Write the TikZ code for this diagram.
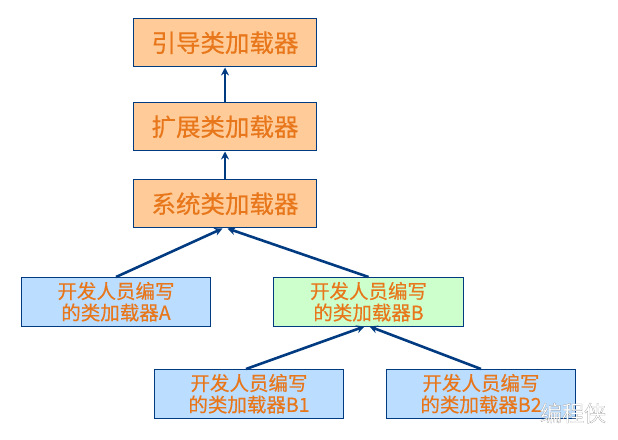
\documentclass[tikz,border=0pt]{standalone}
\usepackage{fontspec}
\setmainfont[FakeBold=0.35]{Noto Sans CJK SC}
\newfontfamily\wmfont[FakeBold=0.6]{Noto Sans CJK SC}
\usetikzlibrary{arrows.meta}
\definecolor{navy}{HTML}{003A80}
\definecolor{txt}{HTML}{E8761A}
\definecolor{org}{HTML}{FFCC99}
\definecolor{blu}{HTML}{BBDDFF}
\definecolor{grn}{HTML}{CCFFCC}
\tikzset{
 x=1bp,y=-1bp,
 bigbox/.style={draw=navy,line width=1bp,fill=org,minimum width=183bp,minimum height=48.5bp,inner sep=0pt,text=txt,font=\fontsize{24.5bp}{26bp}\selectfont},
 smallbox/.style={draw=navy,line width=1bp,fill=blu,minimum width=189bp,minimum height=48.5bp,inner sep=0pt,text=txt,align=center,font=\fontsize{19.5bp}{21.5bp}\selectfont},
 conn/.style={draw=navy,line width=2.6bp,-{Stealth[length=8bp,width=8bp]}},
}
\begin{document}
\begin{tikzpicture}
\useasboundingbox (0,0) rectangle (618,440);
\node[bigbox] (boot) at (225,42.75) {\raisebox{-1bp}{引导类加载器}};
\node[bigbox] (ext) at (225,126.75) {\raisebox{-1bp}{扩展类加载器}};
\node[bigbox] (sys) at (225,203.75) {\raisebox{-1bp}{系统类加载器}};
\node[smallbox] (a) at (116,301.75) {开发人员编写\\的类加载器A};
\node[smallbox,fill=grn,minimum width=190bp] (b) at (368.5,301.75) {开发人员编写\\的类加载器B};
\node[smallbox] (b1) at (249,393.75) {开发人员编写\\的类加载器B1};
\node[smallbox] (b2) at (481,393.75) {开发人员编写\\的类加载器B2};
\draw[conn] (ext.north) -- (boot.south);
\draw[conn] (sys.north) -- (ext.south);
\draw[conn] (a.north) -- ([xshift=-2.5bp]sys.south);
\draw[conn] (b.north) -- ([xshift=2.5bp]sys.south);
\draw[conn] ([xshift=-3bp]b1.north) -- ([xshift=-4bp]b.south);
\draw[conn] (b2.north) -- ([xshift=1bp]b.south);
\node[inner sep=0pt] (wm) at (573,413) {\wmfont\fontsize{22bp}{24bp}\selectfont\special{pdf:bcolor [1] [0.5]}编程侠\special{pdf:ecolor}};
\end{tikzpicture}
\end{document}
